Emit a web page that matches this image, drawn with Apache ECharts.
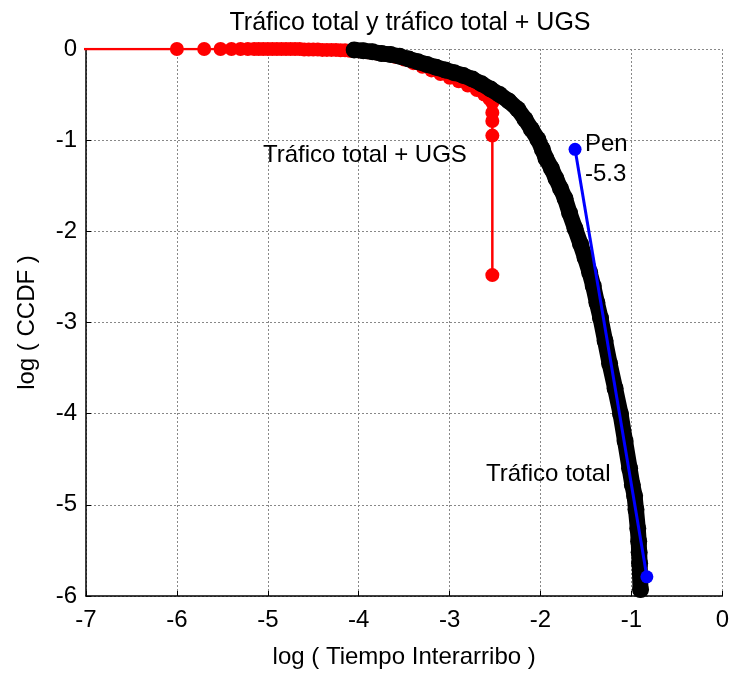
<!DOCTYPE html>
<html>
<head>
<meta charset="utf-8">
<script src="https://cdn.jsdelivr.net/npm/echarts@6/dist/echarts.min.js"></script>
<style>
  html, body { margin: 0; padding: 0; background: #fff; }
  #chart { width: 732px; height: 674px; }
</style>
</head>
<body>
<div id="chart"></div>
<script>
// Tráfico total + UGS (rojo)
const ugsX = [-7.5, -6, -5.7, -5.52, -5.4, -5.3, -5.22, -5.15, -5.1, -5.05, -5.0,
  -4.95, -4.9, -4.85, -4.8, -4.75, -4.7, -4.65, -4.6, -4.55, -4.5, -4.45, -4.4, -4.35, -4.3,
  -4.25, -4.2, -4.15, -4.1, -4.05, -4.0, -3.9, -3.8, -3.7, -3.6, -3.5, -3.4, -3.3, -3.2,
  -3.1, -3.0, -2.9, -2.8, -2.7, -2.62, -2.56, -2.53, -2.53, -2.53, -2.53, -2.53];
const ugsY = [0, 0, 0, 0, 0, 0, 0, 0, 0, 0, 0,
  0, 0, 0, 0, 0, 0, 0, -0.005, -0.005, -0.005, -0.005, -0.01, -0.01, -0.01,
  -0.01, -0.015, -0.015, -0.02, -0.02, -0.025, -0.035, -0.05, -0.065, -0.085, -0.115, -0.155, -0.195, -0.235,
  -0.275, -0.315, -0.355, -0.4, -0.45, -0.5, -0.55, -0.59, -0.70, -0.79, -0.95, -2.48];

// Tráfico total (negro)
const totX = [-4.05, -3.95, -3.85, -3.75, -3.65, -3.55, -3.45, -3.35, -3.25, -3.15, -3.05,
  -2.95, -2.85, -2.75, -2.65, -2.55, -2.45, -2.35, -2.25, -2.17, -2.1, -2.03, -1.98, -1.94,
  -1.88, -1.83, -1.78, -1.73, -1.68, -1.62, -1.56, -1.51, -1.46, -1.42, -1.38, -1.34, -1.29,
  -1.24, -1.18, -1.12, -1.07, -1.02, -0.99, -0.965, -0.95, -0.93, -0.92, -0.915, -0.91, -0.9];
const totY = [-0.01, -0.02, -0.03, -0.05, -0.06, -0.08, -0.11, -0.14, -0.17, -0.2, -0.23,
  -0.26, -0.29, -0.33, -0.38, -0.44, -0.5, -0.57, -0.66, -0.77, -0.88, -0.99, -1.1, -1.2,
  -1.31, -1.42, -1.53, -1.64, -1.8, -1.97, -2.14, -2.29, -2.45, -2.6, -2.78, -2.95, -3.2,
  -3.45, -3.72, -4.0, -4.3, -4.6, -4.78, -4.9, -5.05, -5.26, -5.4, -5.52, -5.64, -5.93];

// Recta de ajuste (azul)
const fitX = [-1.62, -0.83];
const fitY = [-1.10, -5.79];

const xTicks = [-7, -6, -5, -4, -3, -2, -1, 0];
const yTicks = [-6, -5, -4, -3, -2, -1, 0];

const pairs = (xs, ys) => xs.map((x, i) => [x, ys[i]]);

const font = 'Liberation Sans, Arial, sans-serif';
const fs = 24;
const chart = echarts.init(document.getElementById('chart'));

chart.setOption({
  animation: false,
  title: {
    text: 'Tráfico total y tráfico total + UGS',
    left: 405, top: 6, textAlign: 'center',
    textStyle: { fontFamily: font, fontSize: 25, fontWeight: 'normal', color: '#000' }
  },
  grid: { left: 86, right: 5, top: 49, bottom: 72 },
  xAxis: {
    type: 'value', min: xTicks[0], max: xTicks[xTicks.length - 1], interval: 1,
    name: 'log ( Tiempo Interarribo )', nameLocation: 'middle', nameGap: 49,
    nameTextStyle: { fontFamily: font, fontSize: fs, color: '#000' },
    axisLine: { show: true, onZero: false, lineStyle: { color: '#000', width: 1.5 } },
    axisTick: { show: true, inside: true, length: 5, lineStyle: { color: '#000' } },
    axisLabel: { fontFamily: font, fontSize: fs, color: '#000', margin: 12 },
    splitLine: { show: true, lineStyle: { color: '#888', type: [2, 2], width: 1 } }
  },
  yAxis: {
    type: 'value', min: yTicks[0], max: yTicks[yTicks.length - 1], interval: 1,
    name: 'log ( CCDF )', nameLocation: 'middle', nameGap: 47, nameRotate: 90,
    nameTextStyle: { fontFamily: font, fontSize: fs, color: '#000' },
    axisLine: { show: true, onZero: false, lineStyle: { color: '#000', width: 1.5 } },
    axisTick: { show: true, inside: true, length: 5, lineStyle: { color: '#000' } },
    axisLabel: { fontFamily: font, fontSize: fs, color: '#000', margin: 9 },
    splitLine: { show: true, lineStyle: { color: '#888', type: [2, 2], width: 1 } }
  },
  series: [
    {
      name: 'Tráfico total + UGS', type: 'line', data: pairs(ugsX, ugsY), z: 2,
      symbol: 'circle', symbolSize: 14, clip: true,
      lineStyle: { color: '#ff0000', width: 2.5 },
      itemStyle: { color: '#ff0000' }
    },
    {
      name: 'Tráfico total', type: 'line', data: pairs(totX, totY), z: 3,
      symbol: 'circle', symbolSize: 17, clip: false,
      lineStyle: { color: '#000', width: 16, cap: 'round', join: 'round' },
      itemStyle: { color: '#000' }
    },
    {
      name: 'Pen', type: 'line', data: pairs(fitX, fitY), z: 5,
      symbol: 'circle', symbolSize: 13, clip: false,
      lineStyle: { color: '#0000ff', width: 3 },
      itemStyle: { color: '#0000ff' }
    }
  ],
  graphic: [
    { type: 'text', left: 263, top: 143, z: 10, style: { text: 'Tráfico total + UGS', font: fs + 'px ' + font, fill: '#000' } },
    { type: 'text', left: 486, top: 462, z: 10, style: { text: 'Tráfico total', font: fs + 'px ' + font, fill: '#000' } },
    { type: 'text', left: 585, top: 132, z: 10, style: { text: 'Pen', font: fs + 'px ' + font, fill: '#000' } },
    { type: 'text', left: 585, top: 162, z: 10, style: { text: '-5.3', font: fs + 'px ' + font, fill: '#000' } }
  ]
});
</script>
</body>
</html>
